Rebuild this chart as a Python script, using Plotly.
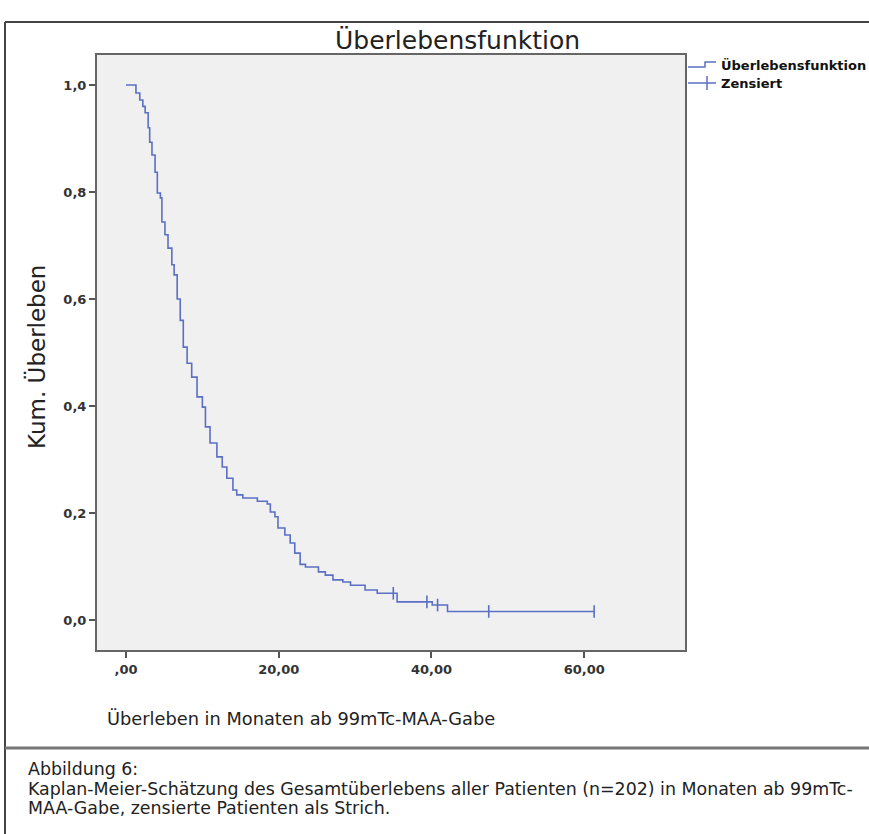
import plotly.graph_objects as go

# Kaplan-Meier step data
event_times = [0, 1.3, 1.8, 2.2, 2.5, 2.9, 3.1, 3.4, 3.8, 4.1, 4.5, 4.7, 5.1, 5.5, 6.0, 6.3,
               6.7, 7.1, 7.5, 8.0, 8.6, 9.3, 10.0, 10.4, 11.0, 11.9, 12.6, 13.2, 14.0, 14.5,
               15.3, 17.2, 18.5, 18.9, 19.5, 19.9, 20.8, 21.5, 22.1, 22.8, 23.5, 25.2, 26.1,
               27.1, 28.4, 29.4, 31.3, 32.9, 35.5, 40.1, 42.1, 61.3]
survival = [1.0, 0.985, 0.972, 0.96, 0.948, 0.92, 0.893, 0.869, 0.837, 0.798, 0.789, 0.744,
            0.72, 0.695, 0.664, 0.645, 0.60, 0.56, 0.51, 0.48, 0.454, 0.417, 0.398, 0.361,
            0.331, 0.305, 0.286, 0.265, 0.243, 0.234, 0.228, 0.222, 0.217, 0.202, 0.193,
            0.172, 0.159, 0.144, 0.125, 0.104, 0.099, 0.09, 0.084, 0.075, 0.071, 0.065,
            0.056, 0.05, 0.034, 0.028, 0.016, 0.016]
censor_times = [35.0, 39.4, 40.8, 47.5, 61.3]
censor_surv = [0.05, 0.034, 0.028, 0.016, 0.016]

x_tickvals = [0, 20, 40, 60]
x_ticktext = [",00", "20,00", "40,00", "60,00"]
y_tickvals = [0.0, 0.2, 0.4, 0.6, 0.8, 1.0]
y_ticktext = ["0,0", "0,2", "0,4", "0,6", "0,8", "1,0"]

W, H = 869, 834
L, R, T, B = 97, 685, 55, 650
PW, PH = R - L, B - T


def px(x):
    return (x - L) / PW


def py(y):
    return (B - y) / PH


COL = "#5b6fc4"
FONT = "DejaVu Sans, Arial, sans-serif"
TICKFONT = dict(size=13, family=FONT, color="#333", weight="bold")

fig = go.Figure()
fig.add_trace(go.Scatter(x=event_times, y=survival, mode="lines", line_shape="hv",
                         line=dict(color=COL, width=1.6), showlegend=False, hoverinfo="skip"))
fig.add_trace(go.Scatter(x=censor_times, y=censor_surv, mode="markers",
                         marker=dict(symbol="line-ns", size=9, line=dict(color=COL, width=1.6)),
                         showlegend=False, hoverinfo="skip"))

fig.update_layout(
    width=W, height=H,
    margin=dict(l=L, r=W - R, t=T, b=H - B, pad=0),
    paper_bgcolor="white", plot_bgcolor="#f0f0f0",
    showlegend=False,
    font=dict(family=FONT, color="#222"),
    xaxis=dict(range=[-3.8, 73.2], tickvals=x_tickvals, ticktext=x_ticktext,
               showgrid=False, zeroline=False, ticks="outside", ticklen=6, tickwidth=2,
               tickcolor="#555", showline=True, linecolor="#666", linewidth=2, mirror=True,
               tickfont=TICKFONT),
    yaxis=dict(range=[-0.056, 1.056], tickvals=y_tickvals, ticktext=y_ticktext,
               showgrid=False, zeroline=False, ticks="outside", ticklen=6, tickwidth=2,
               tickcolor="#555", showline=True, linecolor="#666", linewidth=2, mirror=True,
               tickfont=TICKFONT),
)

shapes = [
    # outer frame
    dict(type="line", xref="paper", yref="paper", x0=px(5), x1=px(869), y0=py(22), y1=py(22),
         line=dict(color="#444", width=2)),
    dict(type="line", xref="paper", yref="paper", x0=px(5), x1=px(5), y0=py(22), y1=py(834),
         line=dict(color="#444", width=2)),
    dict(type="line", xref="paper", yref="paper", x0=px(5), x1=px(869), y0=py(748), y1=py(748),
         line=dict(color="#777", width=3)),
    # legend icons
    dict(type="path", xref="paper", yref="paper",
         path=f"M {px(688)},{py(67)} L {px(705)},{py(67)} L {px(705)},{py(62)} L {px(716)},{py(62)}",
         line=dict(color=COL, width=1.5)),
    dict(type="line", xref="paper", yref="paper", x0=px(688), x1=px(716), y0=py(83), y1=py(83),
         line=dict(color=COL, width=1.5)),
    dict(type="line", xref="paper", yref="paper", x0=px(707), x1=px(707), y0=py(76), y1=py(90),
         line=dict(color=COL, width=1.5)),
]

annotations = [
    dict(text="Überlebensfunktion", xref="paper", yref="paper", x=px(457), y=py(40),
         xanchor="center", yanchor="middle", showarrow=False,
         font=dict(size=25, family=FONT, color="#222")),
    dict(text="Kum. Überleben", xref="paper", yref="paper", x=px(36), y=py(357),
         xanchor="center", yanchor="middle", showarrow=False, textangle=-90,
         font=dict(size=23, family=FONT, color="#222")),
    dict(text="Überleben in Monaten ab 99mTc-MAA-Gabe", xref="paper", yref="paper",
         x=px(105), y=py(718), xanchor="left", yanchor="middle", showarrow=False,
         font=dict(size=17.8, family=FONT, color="#222")),
    dict(text="<b>Überlebensfunktion</b>", xref="paper", yref="paper", x=px(719), y=py(65),
         xanchor="left", yanchor="middle", showarrow=False,
         font=dict(size=13, family=FONT, color="#111")),
    dict(text="<b>Zensiert</b>", xref="paper", yref="paper", x=px(719), y=py(83),
         xanchor="left", yanchor="middle", showarrow=False,
         font=dict(size=13, family=FONT, color="#111")),
    dict(text="Abbildung 6:", xref="paper", yref="paper", x=px(26), y=py(769),
         xanchor="left", yanchor="middle", showarrow=False,
         font=dict(size=17.4, family=FONT, color="#222")),
    dict(text="Kaplan-Meier-Schätzung des Gesamtüberlebens aller Patienten (n=202) in Monaten ab 99mTc-",
         xref="paper", yref="paper", x=px(26), y=py(789),
         xanchor="left", yanchor="middle", showarrow=False,
         font=dict(size=17.4, family=FONT, color="#222")),
    dict(text="MAA-Gabe, zensierte Patienten als Strich.", xref="paper", yref="paper",
         x=px(26), y=py(808), xanchor="left", yanchor="middle", showarrow=False,
         font=dict(size=17.4, family=FONT, color="#222")),
]

fig.update_layout(shapes=shapes, annotations=annotations)
fig.write_html("out.html")
